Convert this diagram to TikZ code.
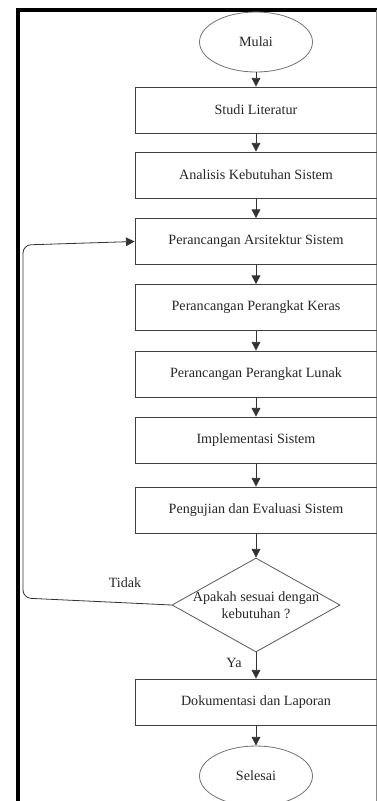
\documentclass[tikz,border=0pt]{standalone}
\usepackage{fontspec}
\setmainfont{Liberation Serif}
\usetikzlibrary{shapes.geometric,arrows.meta}
\tikzset{
  >={Triangle[length=6.5pt,width=6.5pt]},
  proses/.style={draw=black!75, line width=0.6pt, rectangle, minimum width=181.5pt, minimum height=34.5pt, inner sep=0pt, text=black!85, font=\fontsize{10.6}{12.5}\selectfont},
  terminal/.style={draw=black!55, line width=0.6pt, ellipse, minimum width=84.75pt, minimum height=45pt, inner sep=0pt, text=black!85, font=\fontsize{10.6}{12.5}\selectfont},
  keputusan/.style={draw=black!65, line width=0.6pt, diamond, minimum width=126pt, minimum height=70.5pt, aspect=1.79, inner sep=-5pt, align=center, text=black!85, font=\fontsize{10.6}{12.5}\selectfont},
  panah/.style={->, line width=0.6pt, draw=black!80},
  label/.style={text=black!85, font=\fontsize{10.6}{12.5}\selectfont}
}
\begin{document}
\begin{tikzpicture}[x=0.75pt,y=-0.75pt]
\clip (0,0) rectangle (377,801);
\fill[white] (0,0) rectangle (377,801);
% bingkai
\draw[line width=3pt] (18,801) -- (18,10) -- (377,10);
\draw[black!45, line width=0.8pt] (376.5,10) -- (376.5,801);
% langkah
\node[terminal] (mulai) at (256,42) {Mulai};
\node[proses] (studi) at (256,110) {Studi Literatur};
\node[proses] (analisis) at (256,175) {Analisis Kebutuhan Sistem};
\node[proses] (arsitektur) at (256,241.5) {Perancangan Arsitektur Sistem};
\node[proses] (keras) at (256,307.5) {Perancangan Perangkat Keras};
\node[proses] (lunak) at (256,374) {Perancangan Perangkat Lunak};
\node[proses] (implementasi) at (256,440) {Implementasi Sistem};
\node[proses] (pengujian) at (256,510) {Pengujian dan Evaluasi Sistem};
\node[keputusan] (cek) at (256,605) {Apakah sesuai dengan\\kebutuhan ?};
\node[proses] (dokumentasi) at (256,702) {Dokumentasi dan Laporan};
\node[terminal] (selesai) at (256,776) {Selesai};
% panah
\draw[panah] (mulai) -- (studi);
\draw[panah] (studi) -- (analisis);
\draw[panah] (analisis) -- (arsitektur);
\draw[panah] (arsitektur) -- (keras);
\draw[panah] (keras) -- (lunak);
\draw[panah] (lunak) -- (implementasi);
\draw[panah] (implementasi) -- (pengujian);
\draw[panah] (pengujian) -- (cek);
\draw[panah] (cek) -- (dokumentasi);
\draw[panah] (dokumentasi) -- (selesai);
\draw[panah, rounded corners=6pt] (cek.west) -- (23,598) -- (23,245) -- (arsitektur.west);
\node[label] (tidak) at (125,583) {Tidak};
\node[label] (ya) at (234,663) {Ya};
\end{tikzpicture}
\end{document}
